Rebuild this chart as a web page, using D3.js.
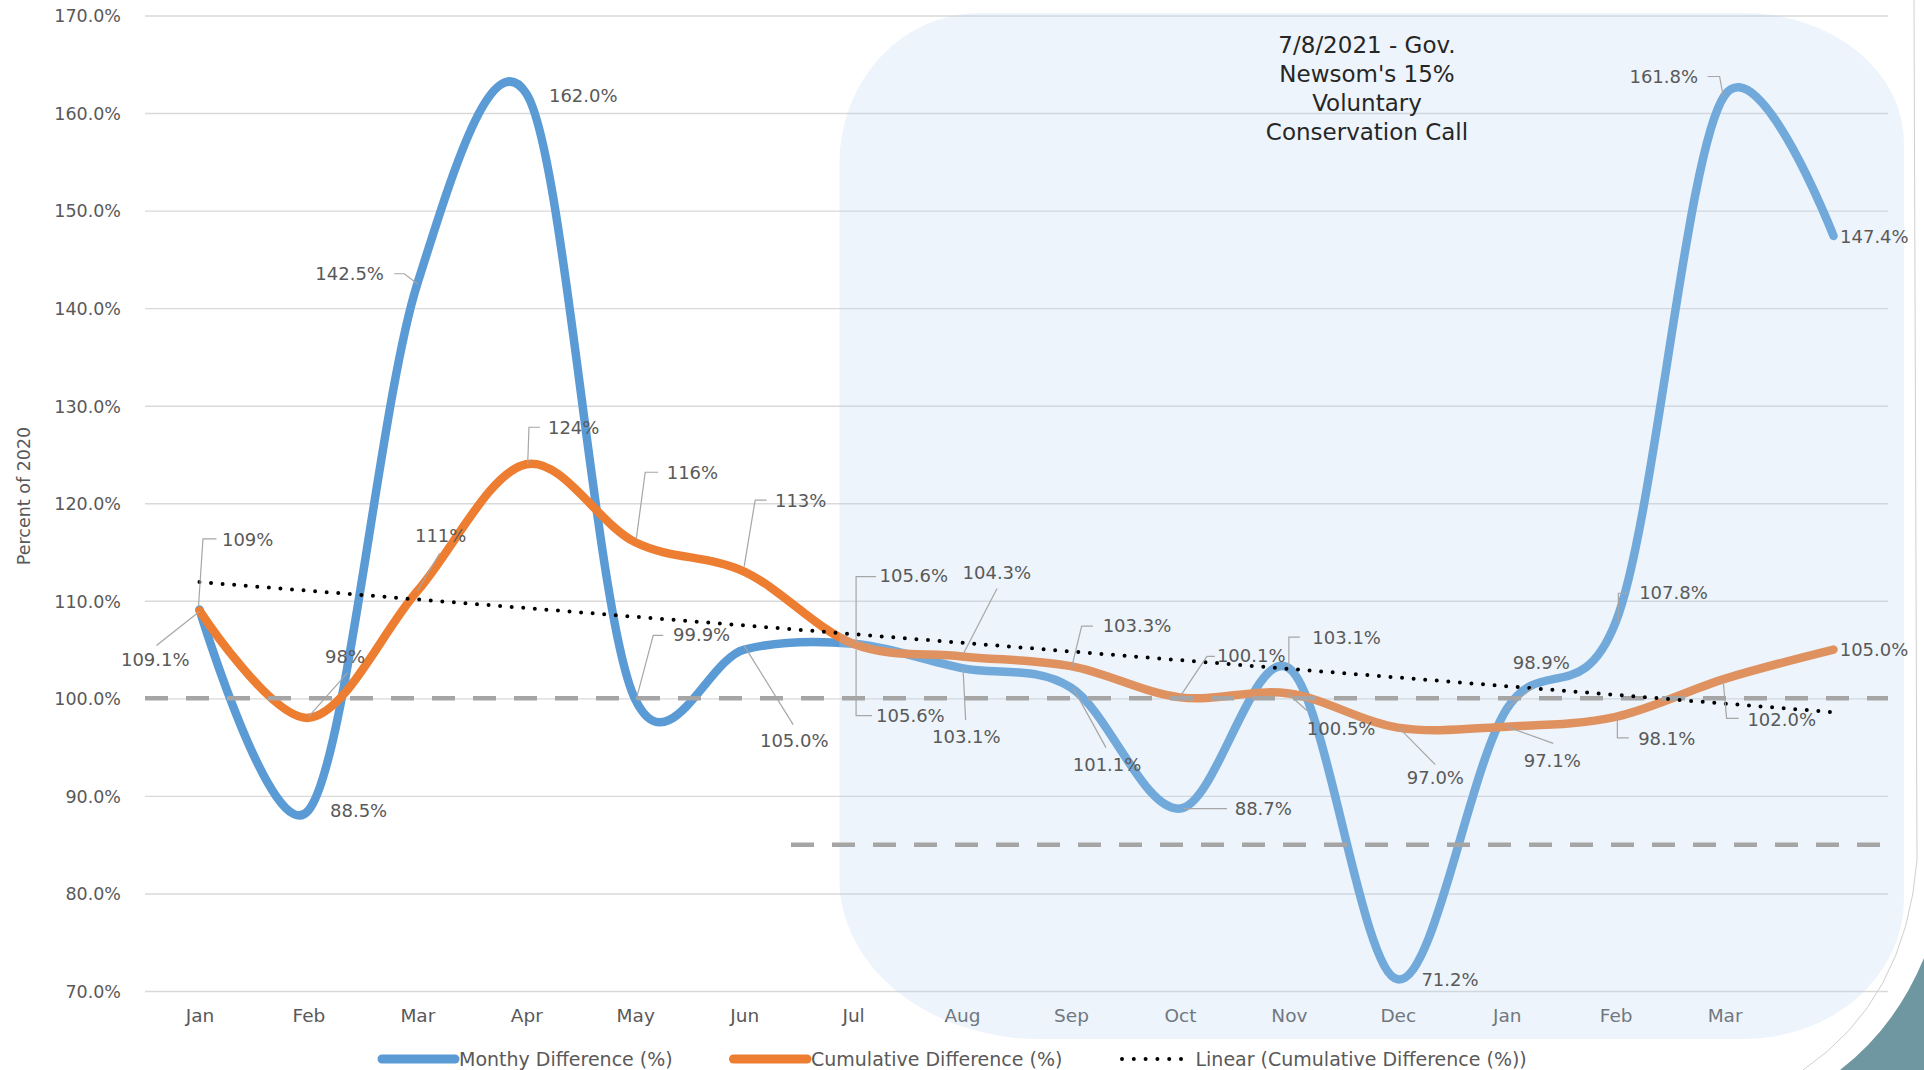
<!DOCTYPE html>
<html>
<head>
<meta charset="utf-8">
<script src="https://cdn.jsdelivr.net/npm/d3@7"></script>
<style>
  html, body { margin: 0; padding: 0; background: #ffffff; }
  svg { display: block; font-family: "DejaVu Sans", sans-serif; }
</style>
</head>
<body>
<svg id="chart" width="1924" height="1070"></svg>
<script>
// ---------- data ----------
const monthLabels = ["Jan","Feb","Mar","Apr","May","Jun","Jul","Aug","Sep","Oct","Nov","Dec","Jan","Feb","Mar",""];
const monthlyDiff = [109.1, 88.5, 142.5, 162.0, 99.9, 105.0, 105.6, 103.1, 101.1, 88.7, 103.1, 71.2, 98.9, 107.8, 161.8, 147.4];
const cumulativeDiff = [109, 98, 111, 124, 116, 113, 105.6, 104.3, 103.3, 100.1, 100.5, 97.0, 97.1, 98.1, 102.0, 105.0];
const cumulativeText = ["109%","98%","111%","124%","116%","113%","105.6%","104.3%","103.3%","100.1%","100.5%","97.0%","97.1%","98.1%","102.0%","105.0%"];
const yTicks = [70, 80, 90, 100, 110, 120, 130, 140, 150, 160, 170];
const baselineValue = 100;
const targetValue = 85;          // 15% conservation target
const targetStartIndex = 5.43;   // target line begins between Jun and Jul
const panelStartIndex = 5.875;   // highlighted period begins just before Jul
const seriesNames = ["Monthy Difference (%)", "Cumulative Difference (%)", "Linear (Cumulative Difference (%))"];
const annotationLines = ["7/8/2021 - Gov.", "Newsom's 15%", "Voluntary", "Conservation Call"];
const axisTitle = "Percent of 2020";

// ---------- label layout (pixel offsets from each point) ----------
const monthlyLabelLayout = [
  {dx:-78.5, dy:50.4, leader:[[0,2],[-43,36]]},
  {dx:21.6, dy:0},
  {dx:-33.4, dy:-9.8, anchor:"end", leader:[[-23,-10],[-13,-10],[0,0]]},
  {dx:22.7, dy:1.5},
  {dx:37.8, dy:-64.4, leader:[[28,-64],[18,-64],[1,0]]},
  {dx:15.8, dy:91, leader:[[0,-4],[49,75]]},
  {dx:23, dy:72, leader:[[19,72],[3,72],[3,6]]},
  {dx:-30, dy:68, leader:[[3.6,52],[1,0]]},
  {dx:1.8, dy:77.4, leader:[[35,60],[2,0]]},
  {dx:54.8, dy:0, leader:[[4,0],[47,0]]},
  {dx:23.5, dy:-31, leader:[[0,-1],[0,-31],[11,-31]]},
  {dx:23.6, dy:0},
  {dx:6, dy:-46.4, leader:[[25.7,-21],[0,-1]]},
  {dx:23.5, dy:-29.3, leader:[[12,-29],[2.7,-29],[2.7,0]]},
  {dx:-26.5, dy:-18.8, anchor:"end", leader:[[-17,-19],[-5,-19],[-1.5,0]]},
  {dx:6.5, dy:0.5}
];
const cumulativeLabelLayout = [
  {dx:22.5, dy:-71.3, leader:[[-1,-4],[3.5,-71.6],[17,-71.6]]},
  {dx:16.6, dy:-61.2, leader:[[0,-1],[39,-45]]},
  {dx:-2.4, dy:-56, leader:[[22.3,-37.7],[0,0]]},
  {dx:21.7, dy:-36.9, leader:[[13.7,-37],[2.7,-37],[1.4,0]]},
  {dx:31.5, dy:-70, leader:[[23,-70],[10,-70],[1,-3]]},
  {dx:30.8, dy:-71.5, leader:[[22.5,-71.5],[11,-71.5],[0,-5]]},
  {dx:26.4, dy:-67.8, leader:[[23,-67],[3,-67],[3,0]]},
  {dx:0.5, dy:-83.7, leader:[[35,-68],[1,-2]]},
  {dx:31.7, dy:-40.2, leader:[[22,-40],[10.7,-40],[1,0]]},
  {dx:37, dy:-41.4, leader:[[35,-41],[27,-41],[-1,1]]},
  {dx:18, dy:35.5, leader:[[-1,0],[18,17]]},
  {dx:9, dy:50.4, leader:[[1,0],[37.5,37]]},
  {dx:17, dy:33.4, leader:[[0,0],[46.5,16.7]]},
  {dx:22.5, dy:21.4, leader:[[1.7,1],[1.7,21],[13,21]]},
  {dx:22.8, dy:40.5, leader:[[-1.5,1],[2,39.5],[14,39.5]]},
  {dx:6.2, dy:0.4}
];

// ---------- setup ----------
const svg = d3.select("#chart");
const plot = {left: 145, right: 1888, top: 15.5, bottom: 991};
const idx = d3.range(monthLabels.length);
const x = d3.scaleLinear().domain([-0.5, monthLabels.length - 0.5]).range([plot.left, plot.right]);
const y = d3.scaleLinear().domain([70, 170]).range([plot.bottom, plot.top]);

const BLUE = "#5B9BD5", ORANGE = "#ED7D31", GRID = "#D9D9D9", TEXT = "#595959", REF = "#A5A5A5", LEAD = "#A6A6A6";

// gridlines
const grid = svg.append("g").attr("transform", `translate(${plot.left},0)`)
  .call(d3.axisLeft(y).tickValues(yTicks).tickSize(-(plot.right - plot.left)).tickFormat(""));
grid.select(".domain").remove();
grid.selectAll("line").attr("stroke", GRID).attr("stroke-width", 1.4);

// y-axis labels
const yAxis = svg.append("g").attr("transform", `translate(${plot.left},0)`)
  .call(d3.axisLeft(y).tickValues(yTicks).tickSize(0).tickPadding(24).tickFormat(d => d.toFixed(1) + "%"));
yAxis.select(".domain").remove();
yAxis.selectAll("text").attr("fill", TEXT).attr("font-size", 17.5).attr("font-family", "DejaVu Sans").attr("dy", "0.36em");

// y axis title
svg.append("text").attr("transform", `translate(30,496) rotate(-90)`)
  .attr("text-anchor", "middle").attr("fill", TEXT).attr("font-size", 17.5).text(axisTitle);

// x-axis labels
const xAxis = svg.append("g").attr("transform", `translate(0,${plot.bottom})`)
  .call(d3.axisBottom(x).tickValues(idx.filter(i => monthLabels[i] !== "")).tickSize(0).tickFormat(i => monthLabels[i]));
xAxis.select(".domain").remove();
xAxis.selectAll("text").attr("fill", TEXT).attr("font-size", 18.5).attr("font-family", "DejaVu Sans").attr("dy", null).attr("y", 31);

// series lines (smoothed)
const line = d3.line().x((d, i) => x(i)).y(d => y(d)).curve(d3.curveCatmullRom.alpha(0.1));
svg.append("path").datum(monthlyDiff).attr("d", line).attr("fill", "none")
  .attr("stroke", BLUE).attr("stroke-width", 8.5).attr("stroke-linecap", "round").attr("stroke-linejoin", "round");
svg.append("path").datum(cumulativeDiff).attr("d", line).attr("fill", "none")
  .attr("stroke", ORANGE).attr("stroke-width", 8.5).attr("stroke-linecap", "round").attr("stroke-linejoin", "round");

// translucent highlight panel (post conservation call)
const px0 = x(panelStartIndex), px1 = 1904, py0 = 13, py1 = 1039;
const rTL = [140, 150], rTR = [160, 130], rBR = [160, 140], rBL = [200, 160];
const panelPath = `M${px0 + rTL[0]},${py0} L${px1 - rTR[0]},${py0}
  A${rTR[0]},${rTR[1]} 0 0 1 ${px1},${py0 + rTR[1]} L${px1},${py1 - rBR[1]}
  A${rBR[0]},${rBR[1]} 0 0 1 ${px1 - rBR[0]},${py1} L${px0 + rBL[0]},${py1}
  A${rBL[0]},${rBL[1]} 0 0 1 ${px0},${py1 - rBL[1]} L${px0},${py0 + rTL[1]}
  A${rTL[0]},${rTL[1]} 0 0 1 ${px0 + rTL[0]},${py0} Z`;
svg.append("path").attr("d", panelPath).attr("fill", "rgb(183,211,239)").attr("fill-opacity", 0.25);

// reference lines (100% baseline, 85% target)
svg.append("line").attr("x1", plot.left).attr("x2", plot.right).attr("y1", y(baselineValue)).attr("y2", y(baselineValue))
  .attr("stroke", REF).attr("stroke-width", 4.5).attr("stroke-dasharray", "23 18");
svg.append("line").attr("x1", x(targetStartIndex)).attr("x2", plot.right).attr("y1", y(targetValue)).attr("y2", y(targetValue))
  .attr("stroke", REF).attr("stroke-width", 4.5).attr("stroke-dasharray", "23 18");

// linear trendline of cumulative series (least squares)
const n = cumulativeDiff.length;
const mx = d3.mean(idx), my = d3.mean(cumulativeDiff);
const slope = d3.sum(idx, i => (i - mx) * (cumulativeDiff[i] - my)) / d3.sum(idx, i => (i - mx) * (i - mx));
const intercept = my - slope * mx;
svg.append("line").attr("x1", x(0)).attr("y1", y(intercept)).attr("x2", x(n - 1)).attr("y2", y(intercept + slope * (n - 1)))
  .attr("stroke", "#000").attr("stroke-width", 4).attr("stroke-linecap", "round").attr("stroke-dasharray", "0 11.6");

// data labels with leader lines
function drawLabels(values, texts, layout) {
  const g = svg.append("g");
  values.forEach((v, i) => {
    const L = layout[i];
    const px = x(i), py = y(v);
    if (L.leader) {
      g.append("path").attr("d", d3.line()(L.leader.map(p => [px + p[0], py + p[1]])))
        .attr("fill", "none").attr("stroke", LEAD).attr("stroke-width", 1.2);
    }
    g.append("text").attr("x", px + L.dx).attr("y", py + L.dy).attr("dy", "0.36em")
      .attr("text-anchor", L.anchor || "start").attr("fill", TEXT).attr("font-size", 18).text(texts[i]);
  });
}
drawLabels(monthlyDiff, monthlyDiff.map(v => v.toFixed(1) + "%"), monthlyLabelLayout);
drawLabels(cumulativeDiff, cumulativeText, cumulativeLabelLayout);

// annotation
const ann = svg.append("text").attr("text-anchor", "middle").attr("fill", "#262626").attr("font-size", 23);
annotationLines.forEach((t, i) => {
  ann.append("tspan").attr("x", 1367).attr("y", 45 + i * 29).attr("dy", "0.36em").text(t);
});

// legend
const legendItems = [
  {name: seriesNames[0], color: BLUE, x0: 382, x1: 455, tx: 459, dots: false},
  {name: seriesNames[1], color: ORANGE, x0: 733.5, x1: 807, tx: 811, dots: false},
  {name: seriesNames[2], color: "#000", x0: 1122, x1: 1182, tx: 1195.5, dots: true}
];
const lg = svg.append("g");
legendItems.forEach(it => {
  const ln = lg.append("line").attr("x1", it.x0).attr("x2", it.x1).attr("y1", 1059).attr("y2", 1059)
    .attr("stroke", it.color).attr("stroke-linecap", "round");
  if (it.dots) ln.attr("stroke-width", 4).attr("stroke-dasharray", "0 11.8");
  else ln.attr("stroke-width", 9);
  lg.append("text").attr("x", it.tx).attr("y", 1066).attr("fill", TEXT).attr("font-size", 19).text(it.name);
});

// slide decoration bottom-right
svg.append("path").attr("d", "M1914,0 L1917,860 Q1906,1000 1803,1070").attr("fill", "none")
  .attr("stroke", "#CFCFCF").attr("stroke-width", 1);
svg.append("path").attr("d", "M1924,958 Q1895,1028 1840,1070 L1924,1070 Z").attr("fill", "#6F97A1");
</script>
</body>
</html>
